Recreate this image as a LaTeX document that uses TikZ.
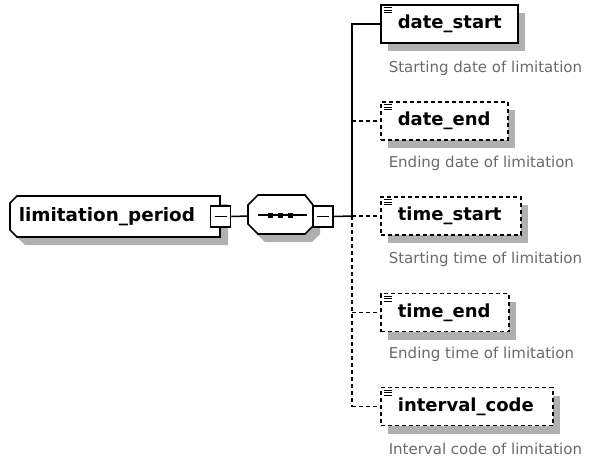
\documentclass[tikz,border=0pt]{standalone}
\usepackage{fontspec}
\setmainfont{DejaVu Sans}
\usetikzlibrary{shadows}
\definecolor{shd}{HTML}{B0B0B0}
\definecolor{desctext}{HTML}{6A6A6A}
\begin{document}
\begin{tikzpicture}[x=1pt,y=-1pt,
  line width=1.5pt,
  elem/.style={draw, line width=1.7pt, fill=white, inner sep=0pt, minimum height=38pt, anchor=west,
    font=\bfseries\fontsize{18}{20}\selectfont,
    drop shadow={shadow xshift=7pt, shadow yshift=-8pt, fill=shd, opacity=1}},
  optelem/.style={elem, dash pattern=on 4pt off 3pt},
  descr/.style={anchor=west, inner sep=0pt, text=desctext, font=\fontsize{15}{17}\selectfont},
  minusbox/.style={draw, fill=white, line width=1.6pt, inner sep=0pt, minimum width=20pt, minimum height=21pt,
    path picture={\draw[line width=1.5pt] ([xshift=4pt]path picture bounding box.west) -- ([xshift=-4pt]path picture bounding box.east);}},
  conn/.style={line width=1.5pt},
  dconn/.style={line width=1.5pt, dash pattern=on 4pt off 3pt}
]
\useasboundingbox (0,0) rectangle (591,461);

% limitation_period
\fill[shd] (25,204) -- (228,204) -- (228,245) -- (25,245) -- (18,238) -- (18,211) -- cycle;
\draw[line width=1.7pt, fill=white] (17,196) -- (220,196) -- (220,237) -- (17,237) -- (10,230) -- (10,203) -- cycle;
\node[anchor=west, inner sep=0pt, font=\bfseries\fontsize{18.4}{20}\selectfont] (lp) at (18,216.5) {limitation\_period};
\node[minusbox] (lpm) at (220.5,216.5) {};

% sequence
\fill[shd] (265,203) -- (312,203) -- (320,213) -- (320,234) -- (312,242) -- (265,242) -- (255,232) -- (255,213) -- cycle;
\draw[line width=1.7pt, fill=white] (258,195) -- (305,195) -- (313,205) -- (313,226) -- (305,234) -- (258,234) -- (248,224) -- (248,205) -- cycle;
\coordinate (seq) at (248,216);
\draw[line width=1.5pt] (258,215) -- (307,215);
\foreach \sx in {270,280,290} \fill (\sx-2.5,212.5) rectangle (\sx+2.5,217.5);
\node[minusbox] (seqm) at (323,216.5) {};

\draw[conn] (lpm.east) -- (seq);

% children
\node[elem] (ds) at (380,24) {\makebox[137pt][l]{\hspace{17pt}date\_start}};
\node[optelem] (de) at (380,121) {\makebox[127pt][l]{\hspace{17pt}date\_end}};
\node[optelem] (ts) at (380,216) {\makebox[140pt][l]{\hspace{17pt}time\_start}};
\node[optelem] (te) at (380,312.5) {\makebox[128pt][l]{\hspace{17pt}time\_end}};
\node[optelem] (ic) at (380,406.5) {\makebox[172pt][l]{\hspace{17pt}interval\_code}};

\foreach \n in {ds,de,ts,te,ic}{
  \foreach \d in {3.5,6,8.5} \draw[line width=1pt] ([shift={(3.5,\d)}]\n.north west) -- ++(8,0);
}

\node[descr] (dsd) at (388,68) {Starting date of limitation};
\node[descr] (ded) at (388,163) {Ending date of limitation};
\node[descr] (tsd) at (388,259) {Starting time of limitation};
\node[descr] (ted) at (388,354) {Ending time of limitation};
\node[descr] (icd) at (388,449) {Interval code of limitation};

% trunk
\coordinate (tj) at (352,216);
\coordinate (tt) at (352,24);
\coordinate (tb) at (352,406.5);
\draw[conn] (seqm.east) -- (tj);
\draw[conn] (ds.west) -- (tt) -- (tj);
\draw[dconn] (tj) -- (tb);
\draw[dconn] (tj) -- (ts.west);
\draw[dconn] (de.west -| tj) -- (de.west);
\draw[dconn] (te.west -| tj) -- (te.west);
\draw[dconn] (tb) -- (ic.west);
\end{tikzpicture}
\end{document}
